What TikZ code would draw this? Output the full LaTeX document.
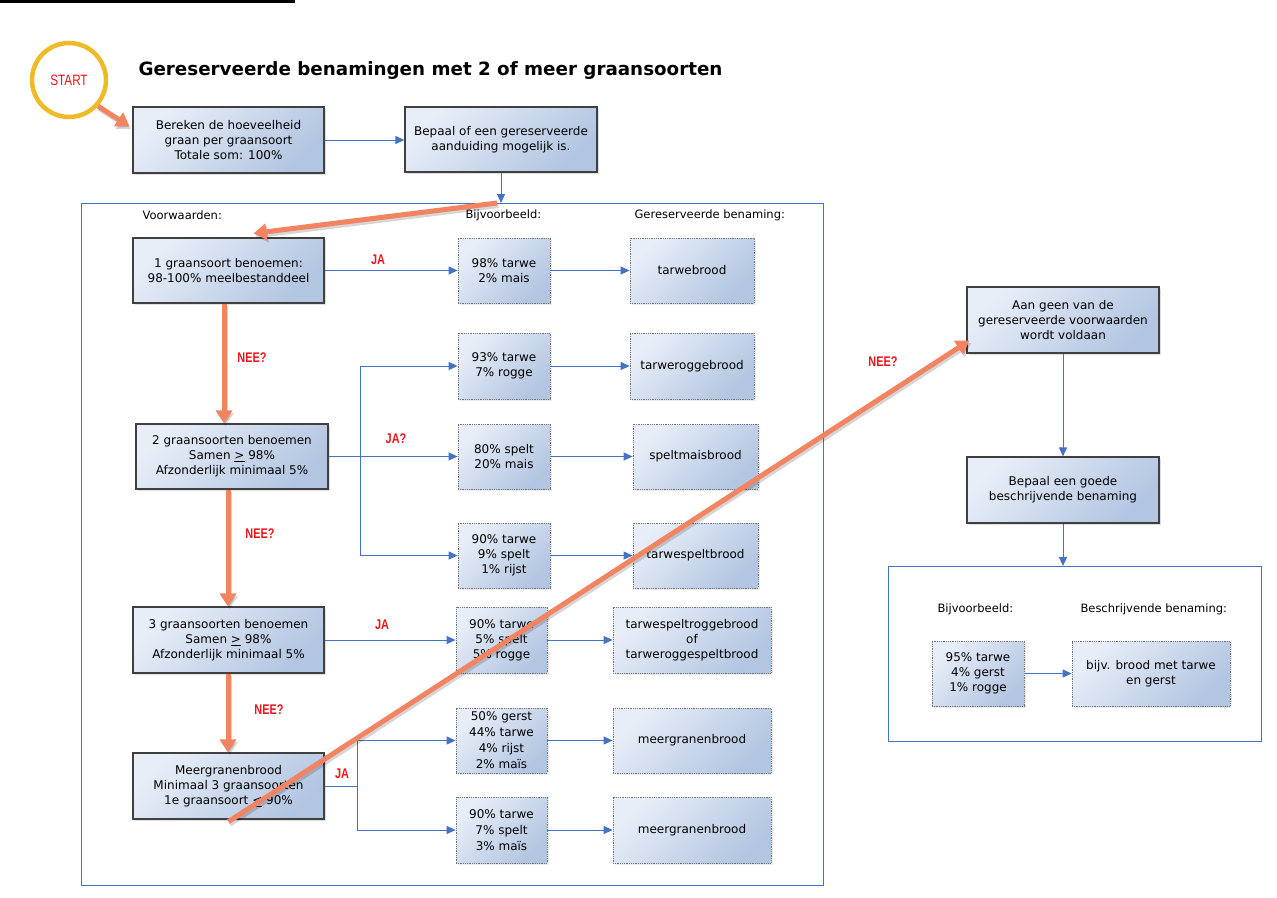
\documentclass[tikz,border=0pt]{standalone}
\usepackage{fontspec}
\setmainfont{DejaVu Sans}
\newfontfamily\labfont{Liberation Sans}
\usetikzlibrary{arrows.meta,shadows,calc}
\definecolor{bluel}{RGB}{68,114,196}
\definecolor{orng}{RGB}{243,132,98}
\definecolor{fillA}{RGB}{232,238,248}
\definecolor{fillB}{RGB}{178,197,225}
\definecolor{gold}{RGB}{240,185,40}
\definecolor{redl}{RGB}{236,20,30}
\newcommand\condtxt[1]{\scalebox{0.78}[1]{#1}}
\begin{document}
\begin{tikzpicture}[x=1pt,y=-1pt,
  txt/.style={font=\fontsize{12}{15}\selectfont},
  mainbox/.style={draw=black!75, line width=1.2pt, top color=fillA, bottom color=fillB, shading angle=45,
    align=center, txt, inner sep=0pt,
    drop shadow={shadow xshift=2pt,shadow yshift=-2pt,opacity=0.25}},
  exbox/.style={draw=black!55, densely dotted, line width=0.8pt, top color=fillA, bottom color=fillB, shading angle=45,
    align=center, txt, inner sep=0pt,
    drop shadow={shadow xshift=1.5pt,shadow yshift=-1.5pt,opacity=0.15}},
  sz/.style 2 args={minimum width=#1pt, minimum height=#2pt},
  conn/.style={draw=bluel, line width=1pt, -{Triangle[length=9pt,width=8pt]}},
  big/.style={draw=orng, line width=5pt, -{Triangle[length=13pt,width=16pt]}},
  bigsh/.style={draw=black, opacity=0.16, line width=5pt, -{Triangle[length=13pt,width=16pt]},
    transform canvas={shift={(1.5pt,-2.5pt)}}},
  lbl/.style={text=redl, font=\labfont\bfseries\fontsize{14}{16}\selectfont},
  head/.style={anchor=west, font=\fontsize{11.5}{14}\selectfont},
  frame/.style={draw=bluel, line width=0.9pt}
]
\useasboundingbox (0,0) rectangle (1277,897);
\fill[black] (0,0) rectangle (295,3);

% frames
\draw[frame] (81,203) rectangle (823,885);
\draw[frame] (888,566) rectangle (1261,741);
\coordinate (f1) at (501,203);
\coordinate (f1o) at (497,203);
\coordinate (f2) at (1063,566);

% title and start
\node[anchor=west, font=\bfseries\fontsize{18.3}{22}\selectfont] (title) at (135,71) {Gereserveerde benamingen met 2 of meer graansoorten};
\node[circle, draw=gold, line width=4.5pt, minimum size=74pt, inner sep=0pt,
  drop shadow={shadow xshift=1.5pt,shadow yshift=-1.5pt,opacity=0.2},
  fill=white, text=redl, font=\labfont\fontsize{15}{16}\selectfont] (start) at (69,80) {\condtxt{START}};

% top boxes
\node[mainbox, sz={191}{66}] (box1) at (228.5,140) {Bereken de hoeveelheid\\graan per graansoort\\Totale som: 100\%};
\node[mainbox, sz={192}{65}] (box2) at (501,139.5) {Bepaal of een gereserveerde\\aanduiding mogelijk is.};

% headings
\node[head] (h1) at (139,215) {Voorwaarden:};
\node[head] (h2) at (462,215) {Bijvoorbeeld:};
\node[head] (h3) at (631,215) {Gereserveerde benaming:};
\node[head] (h4) at (934,609) {Bijvoorbeeld:};
\node[head] (h5) at (1077,609) {Beschrijvende benaming:};

% condition boxes
\node[mainbox, sz={191}{65}] (C1) at (228.5,270.5) {1 graansoort benoemen:\\98-100\% meelbestanddeel};
\node[mainbox, sz={192}{65}] (C2) at (232,456.5) {2 graansoorten benoemen\\Samen \underline{>} 98\%\\Afzonderlijk minimaal 5\%};
\node[mainbox, sz={191}{66}] (C3) at (228.5,640) {3 graansoorten benoemen\\Samen \underline{>} 98\%\\Afzonderlijk minimaal 5\%};
\node[mainbox, sz={191}{66}] (C4) at (228.5,786) {Meergranenbrood\\Minimaal 3 graansoorten\\1e graansoort \underline{<} 90\%};

% examples
\node[exbox, sz={92}{65}] (E1) at (504,270.5) {98\% tarwe\\2\% mais};
\node[exbox, sz={92}{66}] (E2) at (504,366) {93\% tarwe\\7\% rogge};
\node[exbox, sz={92}{65}] (E3) at (504,456.5) {80\% spelt\\20\% mais};
\node[exbox, sz={92}{65}] (E4) at (504,555.5) {90\% tarwe\\9\% spelt\\1\% rijst};
\node[exbox, sz={91}{66}] (E5) at (501.5,640) {90\% tarwe\\5\% spelt\\5\% rogge};
\node[exbox, sz={91}{65}, font=\fontsize{12}{16}\selectfont] (E6) at (501.5,740.5) {50\% gerst\\44\% tarwe\\4\% rijst\\2\% maïs};
\node[exbox, sz={91}{66}, font=\fontsize{12}{16}\selectfont] (E7) at (501.5,830) {90\% tarwe\\7\% spelt\\3\% maïs};

% results
\node[exbox, sz={124}{65}] (R1) at (692,270.5) {tarwebrood};
\node[exbox, sz={124}{66}] (R2) at (692,366) {tarweroggebrood};
\node[exbox, sz={125}{65}] (R3) at (695.5,456.5) {speltmaisbrood};
\node[exbox, sz={125}{65}] (R4) at (695.5,555.5) {tarwespeltbrood};
\node[exbox, sz={158}{66}] (R5) at (692,640) {tarwespeltroggebrood\\of\\tarweroggespeltbrood};
\node[exbox, sz={158}{65}] (R6) at (692,740.5) {meergranenbrood};
\node[exbox, sz={158}{66}] (R7) at (692,830) {meergranenbrood};

% right side
\node[mainbox, sz={192}{66}] (A) at (1063,320) {Aan geen van de\\gereserveerde voorwaarden\\wordt voldaan};
\node[mainbox, sz={192}{66}] (B) at (1063,490) {Bepaal een goede\\beschrijvende benaming};
\node[exbox, sz={92}{65}] (E8) at (978,673.5) {95\% tarwe\\4\% gerst\\1\% rogge};
\node[exbox, sz={158}{65}] (R8) at (1151,673.5) {bijv. brood met tarwe\\en gerst};

% blue connectors
\draw[conn] (box1.east) -- (box1.east -| box2.west);
\draw[conn] (box2.south) -- (f1);
\draw[conn] (C1.east) -- (E1.west);
\draw[conn] (C2.east) -- ++(32,0) |- (E2.west);
\draw[conn] (C2.east) -- (E3.west);
\draw[conn] (C2.east) -- ++(32,0) |- (E4.west);
\draw[conn] (C3.east) -- (E5.west);
\draw[conn] (C4.east) -- ++(33,0) |- (E6.west);
\draw[conn] (C4.east) -- ++(33,0) |- (E7.west);
\draw[conn] (E1.east) -- (R1.west);
\draw[conn] (E2.east) -- (R2.west);
\draw[conn] (E3.east) -- (R3.west);
\draw[conn] (E4.east) -- (R4.west);
\draw[conn] (E5.east) -- (R5.west);
\draw[conn] (E6.east) -- (R6.west);
\draw[conn] (E7.east) -- (R7.west);
\draw[conn] (A.south) -- (B.north);
\draw[conn] (B.south) -- (f2);
\draw[conn] (E8.east) -- (R8.west);

% orange arrows
\coordinate (s1) at ($(box1.north west)+(-3,20)$);
\coordinate (c1t) at ($(C1.north)+(25,-4)$);
\coordinate (n1) at ($(C1.south)+(-4.5,0)$);
\coordinate (n2) at ($(C2.south)+(-4,0)$);
\coordinate (n3) at ($(C3.south)+(-0.5,0)$);
\coordinate (n4) at ($(C4.south)+(0,2)$);
\coordinate (at) at ($(A.south west)+(3,-13)$);
\draw[bigsh] (start.-42) -- (s1);
\draw[bigsh] (f1o) -- (c1t);
\draw[bigsh] (n1) -- (n1 |- C2.north);
\draw[bigsh] (n2) -- (n2 |- C3.north);
\draw[bigsh] (n3) -- (n3 |- C4.north);
\draw[bigsh] (n4) -- (at);
\draw[big] (start.-42) -- (s1);
\draw[big] (f1o) -- (c1t);
\draw[big] (n1) -- (n1 |- C2.north);
\draw[big] (n2) -- (n2 |- C3.north);
\draw[big] (n3) -- (n3 |- C4.north);
\draw[big] (n4) -- (at);

% labels
\node[lbl] (l1) at (378,260) {\condtxt{JA}};
\node[lbl] (l2) at (252,358) {\condtxt{NEE?}};
\node[lbl] (l3) at (396,439) {\condtxt{JA?}};
\node[lbl] (l4) at (260,534) {\condtxt{NEE?}};
\node[lbl] (l5) at (382,625) {\condtxt{JA}};
\node[lbl] (l6) at (269,710) {\condtxt{NEE?}};
\node[lbl] (l7) at (342,774) {\condtxt{JA}};
\node[lbl] (l8) at (883,362) {\condtxt{NEE?}};
\end{tikzpicture}
\end{document}
